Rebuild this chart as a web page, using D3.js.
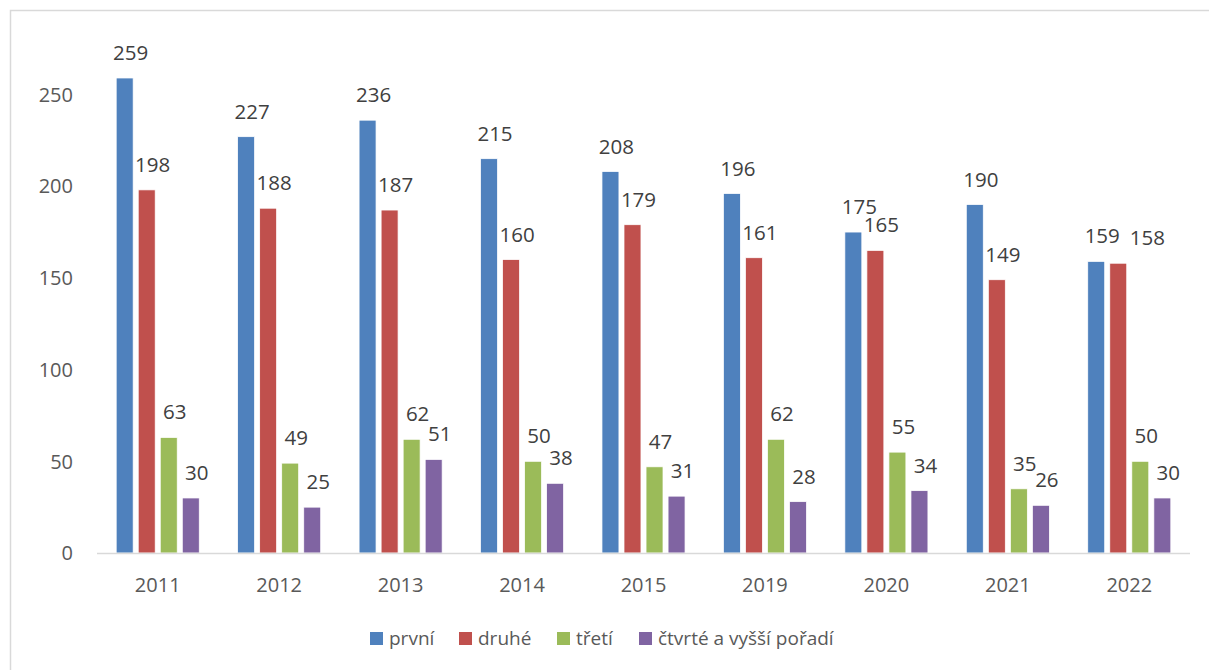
<!DOCTYPE html>
<html>
<head>
<meta charset="utf-8">
<script src="https://cdn.jsdelivr.net/npm/d3@7"></script>
<style>
  body { margin: 0; background: #fff; }
  svg text { font-family: "Open Sans", sans-serif; }
</style>
</head>
<body>
<div id="chart"></div>
<script>
var years = ["2011","2012","2013","2014","2015","2019","2020","2021","2022"];
var seriesNames = ["první","druhé","třetí","čtvrté a vyšší pořadí"];
var prvni  = [259,227,236,215,208,196,175,190,159];
var druhe  = [198,188,187,160,179,161,165,149,158];
var treti  = [63,49,62,50,47,62,55,35,50];
var ctvrte = [30,25,51,38,31,28,34,26,30];
var yTicks = [0,50,100,150,200,250];

var seriesValues = [prvni, druhe, treti, ctvrte];
var colors = ["#4F81BD","#C0504D","#9BBB59","#8064A2"];

var width = 1209,
    height = 670;

var svg = d3.select("#chart")
    .append("svg")
    .attr("width", width)
    .attr("height", height);

// chart frame (bottom/right run off the picture)
svg.append("rect")
    .attr("x", 10.5)
    .attr("y", 10.5)
    .attr("width", 1210)
    .attr("height", 680)
    .attr("fill", "none")
    .attr("stroke", "#d9d9d9")
    .attr("stroke-width", 1.5);

var x0 = d3.scaleBand()
    .domain(years)
    .range([97, 1190])
    .paddingInner(0.316)
    .paddingOuter(0.158);

var x1 = d3.scaleBand()
    .domain(d3.range(seriesNames.length))
    .range([0, x0.bandwidth()])
    .paddingInner(0.23);

var y = d3.scaleLinear()
    .domain([0, 250])
    .range([553, 94.5]);

// y tick labels
svg.append("g")
    .selectAll("text")
    .data(yTicks)
    .enter()
    .append("text")
    .attr("x", 73)
    .attr("y", function(d){ return y(d); })
    .attr("dy", "0.36em")
    .attr("text-anchor", "end")
    .attr("font-size", "20px")
    .attr("fill", "#595959")
    .text(function(d){ return d; });

var groups = svg.append("g")
    .selectAll("g")
    .data(years)
    .enter()
    .append("g")
    .attr("transform", function(d){ return "translate(" + x0(d) + ",0)"; });

function groupData(d, i){
  return seriesValues.map(function(s, k){ return {k: k, v: s[i]}; });
}

groups.selectAll("rect")
    .data(groupData)
    .enter()
    .append("rect")
    .attr("x", function(d){ return x1(d.k); })
    .attr("y", function(d){ return y(d.v); })
    .attr("width", x1.bandwidth())
    .attr("height", function(d){ return y(0) - y(d.v); })
    .attr("fill", function(d){ return colors[d.k]; })
    .attr("stroke", "#fff")
    .attr("stroke-width", 0.75);

groups.each(function(year, gi){
  var labels = d3.select(this).selectAll("text")
      .data(groupData(year, gi))
      .enter()
      .append("text")
      .attr("x", function(d){ return x1(d.k) + x1.bandwidth() / 2 + 6; })
      .attr("y", function(d){ return y(d.v) - 18; })
      .attr("text-anchor", "middle")
      .attr("font-size", "20.5px")
      .attr("fill", "#404040")
      .text(function(d){ return d.v; });

  // push a label right if it would collide with its left neighbour
  var prev = null;
  labels.each(function(d){
    var t = d3.select(this),
        w = this.getComputedTextLength(),
        cx = +t.attr("x"),
        cy = +t.attr("y");
    if (prev && Math.abs(prev.y - cy) < 16 && cx - w / 2 < prev.right + 8) {
      cx = prev.right + 10 + w / 2;
      t.attr("x", cx);
    }
    prev = {y: cy, right: cx + w / 2};
  });
});

// x axis line
svg.append("line")
    .attr("x1", 97)
    .attr("x2", 1190)
    .attr("y1", y(0) + 0.5)
    .attr("y2", y(0) + 0.5)
    .attr("stroke", "#d9d9d9")
    .attr("stroke-width", 1.5);

// x labels
svg.append("g")
    .selectAll("text")
    .data(years)
    .enter()
    .append("text")
    .attr("x", function(d){ return x0(d) + x0.bandwidth() / 2; })
    .attr("y", 592)
    .attr("text-anchor", "middle")
    .attr("font-size", "20px")
    .attr("fill", "#595959")
    .text(function(d){ return d; });

// legend
var legendX = [370, 459, 557, 639];
var legend = svg.append("g")
    .selectAll("g")
    .data(seriesNames)
    .enter()
    .append("g")
    .attr("transform", function(d, i){ return "translate(" + legendX[i] + ",632)"; });

legend.append("rect")
    .attr("width", 13)
    .attr("height", 13)
    .attr("fill", function(d, i){ return colors[i]; });

legend.append("text")
    .attr("x", 19)
    .attr("y", 6.5)
    .attr("dy", "0.36em")
    .attr("font-size", "19px")
    .attr("fill", "#595959")
    .text(function(d){ return d; });
</script>
</body>
</html>
